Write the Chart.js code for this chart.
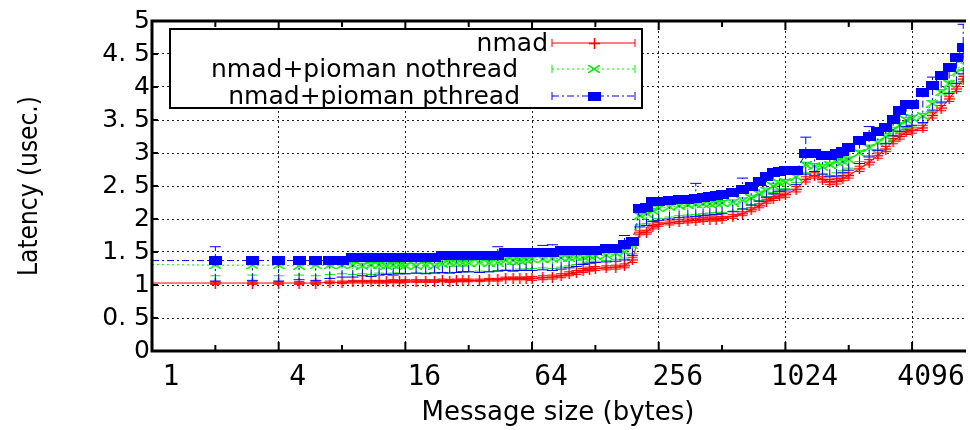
<!DOCTYPE html>
<html>
<head>
<meta charset="utf-8">
<script src="https://cdn.jsdelivr.net/npm/chart.js@4.4.1/dist/chart.umd.min.js"></script>
<style>
    html, body { margin: 0; padding: 0; background: #fff; }
    #wrap { width: 970px; height: 430px; }
</style>
</head>
<body>
<div id="wrap"><canvas id="myChart" width="970" height="430"></canvas></div>
<script>
// message sizes (bytes)
const sizes = [1, 2, 3, 4, 5, 6, 7, 8, 9, 10, 11, 12, 13, 14, 15,
    16, 18, 20, 22, 24, 26, 28, 30,
    32, 36, 40, 44, 48, 52, 56, 60,
    64, 72, 80, 88, 96, 104, 112, 120,
    128, 144, 160, 176, 192, 208, 224, 240,
    256, 288, 320, 352, 384, 416, 448, 480,
    512, 576, 640, 704, 768, 832, 896, 960,
    1024, 1152, 1280, 1408, 1536, 1664, 1792, 1920,
    2048, 2304, 2560, 2816, 3072, 3328, 3584, 3840,
    4096, 4608, 5120, 5632, 6144, 6656, 7168];

// latency (usec.)
const nmad = [1.03, 1.03, 1.03, 1.03, 1.03, 1.03, 1.04, 1.04, 1.05, 1.05, 1.05, 1.05, 1.05, 1.06, 1.05,
    1.06, 1.06, 1.06, 1.06, 1.07, 1.06, 1.07, 1.07,
    1.07, 1.07, 1.08, 1.08, 1.10, 1.10, 1.10, 1.10,
    1.10, 1.11, 1.12, 1.14, 1.17, 1.19, 1.22, 1.24,
    1.25, 1.26, 1.27, 1.29, 1.38, 1.79, 1.80, 1.88,
    1.92, 1.94, 1.96, 1.97, 1.98, 1.99, 2.00, 2.00,
    2.01, 2.04, 2.08, 2.14, 2.20, 2.27, 2.31, 2.35,
    2.37, 2.45, 2.60, 2.66, 2.60, 2.56, 2.57, 2.62,
    2.66, 2.76, 2.86, 2.96, 3.06, 3.18, 3.25, 3.32,
    3.34, 3.38, 3.57, 3.68, 3.82, 3.97, 4.12];
const nmadErr = [0.02, 0.02, 0.02, 0.02, 0.02, 0.02, 0.02, 0.02, 0.02, 0.02, 0.02, 0.02, 0.02, 0.02, 0.02,
    0.02, 0.02, 0.02, 0.02, 0.02, 0.02, 0.02, 0.02,
    0.02, 0.02, 0.02, 0.02, 0.02, 0.02, 0.02, 0.02,
    0.03, 0.03, 0.03, 0.03, 0.03, 0.03, 0.03, 0.03,
    0.03, 0.03, 0.03, 0.03, 0.04, 0.03, 0.03, 0.03,
    0.03, 0.03, 0.03, 0.03, 0.03, 0.03, 0.03, 0.03,
    0.03, 0.03, 0.03, 0.03, 0.03, 0.03, 0.03, 0.03,
    0.04, 0.04, 0.04, 0.04, 0.04, 0.04, 0.04, 0.04,
    0.04, 0.04, 0.04, 0.04, 0.04, 0.04, 0.04, 0.04,
    0.04, 0.04, 0.04, 0.04, 0.04, 0.04, 0.04];

const nothread = [1.31, 1.30, 1.30, 1.30, 1.29, 1.30, 1.30, 1.30, 1.30, 1.29, 1.30, 1.30, 1.29, 1.30, 1.30,
    1.29, 1.29, 1.30, 1.29, 1.32, 1.33, 1.33, 1.33,
    1.33, 1.34, 1.33, 1.34, 1.37, 1.37, 1.37, 1.38,
    1.39, 1.39, 1.40, 1.41, 1.41, 1.42, 1.42, 1.44,
    1.44, 1.45, 1.48, 1.50, 1.60, 2.05, 2.08, 2.12,
    2.16, 2.18, 2.20, 2.21, 2.22, 2.23, 2.23, 2.24,
    2.24, 2.25, 2.28, 2.32, 2.38, 2.43, 2.50, 2.54,
    2.56, 2.64, 2.82, 2.80, 2.79, 2.82, 2.87, 2.87,
    2.90, 3.00, 3.08, 3.16, 3.25, 3.35, 3.42, 3.50,
    3.53, 3.56, 3.75, 3.92, 4.05, 4.22, 4.42];
const nothreadLow = [1.15, 1.14, 1.15, 1.14, 1.15, 1.14, 1.16, 1.17, 1.16, 1.17, 1.16, 1.18, 1.17, 1.18, 1.18,
    1.17, 1.18, 1.18, 1.19, 1.18, 1.19, 1.19, 1.20,
    1.20, 1.21, 1.20, 1.22, 1.23, 1.22, 1.24, 1.24,
    1.25, 1.26, 1.25, 1.27, 1.29, 1.31, 1.33, 1.35,
    1.36, 1.37, 1.39, 1.41, 1.48, 1.91, 1.93, 1.98,
    2.01, 2.03, 2.05, 2.06, 2.07, 2.08, 2.09, 2.10,
    2.10, 2.12, 2.16, 2.22, 2.28, 2.34, 2.40, 2.44,
    2.46, 2.55, 2.70, 2.72, 2.68, 2.66, 2.70, 2.73,
    2.77, 2.87, 2.96, 3.05, 3.15, 3.26, 3.33, 3.38,
    3.41, 3.45, 3.63, 3.78, 3.92, 4.06, 4.25];
const nothreadHigh = [1.35, 1.34, 1.34, 1.34, 1.33, 1.34, 1.34, 1.34, 1.34, 1.33, 1.34, 1.34, 1.33, 1.34, 1.34,
    1.33, 1.33, 1.34, 1.33, 1.36, 1.37, 1.37, 1.37,
    1.37, 1.38, 1.37, 1.38, 1.41, 1.41, 1.41, 1.42,
    1.43, 1.43, 1.44, 1.45, 1.45, 1.46, 1.46, 1.48,
    1.48, 1.49, 1.52, 1.54, 1.64, 2.09, 2.12, 2.16,
    2.20, 2.22, 2.24, 2.25, 2.26, 2.27, 2.27, 2.28,
    2.28, 2.29, 2.32, 2.36, 2.42, 2.47, 2.54, 2.58,
    2.60, 2.68, 2.86, 2.84, 2.83, 2.86, 2.91, 2.91,
    2.94, 3.04, 3.12, 3.20, 3.29, 3.39, 3.46, 3.54,
    3.57, 3.60, 3.79, 3.96, 4.09, 4.26, 4.46];

const pthread = [1.37, 1.37, 1.37, 1.37, 1.37, 1.37, 1.37, 1.37, 1.41, 1.41, 1.41, 1.41, 1.41, 1.41, 1.41,
    1.41, 1.41, 1.41, 1.41, 1.44, 1.44, 1.44, 1.44,
    1.44, 1.44, 1.44, 1.44, 1.49, 1.49, 1.49, 1.49,
    1.49, 1.49, 1.49, 1.53, 1.53, 1.53, 1.53, 1.53,
    1.53, 1.56, 1.56, 1.61, 1.66, 2.16, 2.18, 2.26,
    2.27, 2.28, 2.30, 2.30, 2.31, 2.33, 2.34, 2.35,
    2.37, 2.40, 2.45, 2.50, 2.57, 2.65, 2.70, 2.72,
    2.73, 2.74, 2.99, 2.99, 2.96, 2.96, 3.00, 3.02,
    3.09, 3.19, 3.25, 3.32, 3.39, 3.51, 3.64, 3.74,
    3.74, 3.91, 4.03, 4.18, 4.30, 4.45, 4.60];
const pthreadLow = [1.08, 1.06, 1.07, 1.06, 1.08, 1.07, 1.10, 1.12, 1.12, 1.14, 1.13, 1.15, 1.16, 1.15, 1.17,
    1.17, 1.18, 1.17, 1.18, 1.19, 1.18, 1.19, 1.20,
    1.20, 1.19, 1.20, 1.21, 1.22, 1.21, 1.22, 1.22,
    1.22, 1.23, 1.22, 1.24, 1.26, 1.28, 1.31, 1.33,
    1.34, 1.35, 1.36, 1.38, 1.45, 1.88, 1.90, 1.96,
    1.98, 2.00, 2.02, 2.03, 2.04, 2.05, 2.06, 2.07,
    2.08, 2.11, 2.15, 2.21, 2.27, 2.33, 2.38, 2.42,
    2.44, 2.52, 2.68, 2.72, 2.68, 2.64, 2.65, 2.70,
    2.74, 2.84, 2.94, 3.04, 3.14, 3.26, 3.33, 3.40,
    3.42, 3.46, 3.65, 3.76, 3.90, 4.05, 4.20];
const pthreadHigh = [1.40, 1.58, 1.40, 1.40, 1.40, 1.40, 1.40, 1.40, 1.44, 1.44, 1.44, 1.44, 1.44, 1.44, 1.44,
    1.44, 1.44, 1.44, 1.44, 1.47, 1.47, 1.47, 1.47,
    1.47, 1.47, 1.47, 1.58, 1.52, 1.52, 1.52, 1.52,
    1.52, 1.60, 1.61, 1.56, 1.56, 1.56, 1.56, 1.56,
    1.56, 1.59, 1.59, 1.75, 1.69, 2.19, 2.21, 2.29,
    2.30, 2.31, 2.33, 2.33, 2.54, 2.36, 2.37, 2.38,
    2.40, 2.43, 2.62, 2.53, 2.60, 2.68, 2.73, 2.75,
    2.76, 2.77, 3.24, 3.02, 2.99, 2.99, 3.03, 3.05,
    3.12, 3.22, 3.40, 3.35, 3.42, 3.54, 3.67, 3.77,
    3.77, 3.94, 4.15, 4.21, 4.33, 4.48, 4.95];

const legendLabels = ['nmad', 'nmad+pioman nothread', 'nmad+pioman pthread'];

// axes
const xTickValues = [1, 2, 4, 8, 16, 32, 64, 128, 256, 512, 1024, 2048, 4096];
const xLabelValues = [1, 4, 16, 64, 256, 1024, 4096];
const xTickLabels = ['1', '4', '16', '64', '256', '1024', '4096'];
const yTickValues = [0, 0.5, 1, 1.5, 2, 2.5, 3, 3.5, 4, 4.5, 5];
const yTickLabels = ['0', '0. 5', '1', '1. 5', '2', '2. 5', '3', '3. 5', '4', '4. 5', '5'];

// point markers
function makeMarker(w, h, draw) {
    const c = document.createElement('canvas');
    c.width = w;
    c.height = h;
    draw(c.getContext('2d'), w, h);
    return c;
}
const plusMark = makeMarker(11, 11, function (g, w, h) {
    g.strokeStyle = '#ff0000';
    g.lineWidth = 1.5;
    g.beginPath();
    g.moveTo(0, h / 2); g.lineTo(w, h / 2);
    g.moveTo(w / 2, 0); g.lineTo(w / 2, h);
    g.stroke();
});
const crossMark = makeMarker(12, 8, function (g, w, h) {
    g.strokeStyle = '#00ee00';
    g.lineWidth = 1.5;
    g.beginPath();
    g.moveTo(0, 0); g.lineTo(w, h);
    g.moveTo(w, 0); g.lineTo(0, h);
    g.stroke();
});
const squareMark = makeMarker(13, 9, function (g, w, h) {
    g.fillStyle = '#0000ff';
    g.fillRect(0, 0, w, h);
});

function points(values) {
    return sizes.map(function (s, i) { return {x: s, y: values[i]}; });
}
function hideFirst(mark) {
    return function (ctx) { return ctx.dataIndex === 0 ? false : mark; };
}

// error bars, tick marks, frame, y labels and key in gnuplot style
const gnuplotFrame = {
    id: 'gnuplotFrame',
    beforeDatasetDraw(chart, args) {
        const ds = chart.data.datasets[args.index];
        const area = chart.chartArea;
        const yAxis = chart.scales.y;
        const ctx = chart.ctx;
        ctx.save();
        ctx.beginPath();
        ctx.rect(area.left, area.top, area.right - area.left, area.bottom - area.top);
        ctx.clip();
        ctx.strokeStyle = ds.borderColor;
        ctx.lineWidth = 1;
        args.meta.data.forEach(function (pt, i) {
            if (i === 0) return;
            const lo = yAxis.getPixelForValue(ds.errLow[i]);
            const hi = yAxis.getPixelForValue(ds.errHigh[i]);
            ctx.setLineDash(ds.borderDash || []);
            ctx.beginPath();
            ctx.moveTo(pt.x, lo);
            ctx.lineTo(pt.x, hi);
            ctx.stroke();
            ctx.setLineDash([]);
            ctx.beginPath();
            ctx.moveTo(pt.x - ds.capWidth / 2, lo);
            ctx.lineTo(pt.x + ds.capWidth / 2, lo);
            ctx.moveTo(pt.x - ds.capWidth / 2, hi);
            ctx.lineTo(pt.x + ds.capWidth / 2, hi);
            ctx.stroke();
        });
        ctx.restore();
    },
    afterDatasetsDraw(chart) {
        const ctx = chart.ctx;
        const a = chart.chartArea;
        const xAxis = chart.scales.x;
        const yAxis = chart.scales.y;
        ctx.save();
        ctx.strokeStyle = '#000';
        ctx.lineWidth = 2;
        xTickValues.forEach(function (v) {
            const px = xAxis.getPixelForValue(v);
            const len = xLabelValues.includes(v) ? 9 : 6;
            ctx.beginPath();
            ctx.moveTo(px, a.bottom);
            ctx.lineTo(px, a.bottom - len);
            ctx.moveTo(px, a.top);
            ctx.lineTo(px, a.top + len);
            ctx.stroke();
        });
        yTickValues.forEach(function (v) {
            const py = yAxis.getPixelForValue(v);
            ctx.beginPath();
            ctx.moveTo(a.left, py);
            ctx.lineTo(a.left + 6, py);
            ctx.stroke();
        });
        ctx.lineWidth = 3;
        ctx.beginPath();
        ctx.moveTo(a.right + 2, a.top);
        ctx.lineTo(a.left, a.top);
        ctx.lineTo(a.left, a.bottom);
        ctx.lineTo(a.right + 2, a.bottom);
        ctx.stroke();
        ctx.restore();
    },
    afterDraw(chart) {
        const ctx = chart.ctx;
        const a = chart.chartArea;
        const yAxis = chart.scales.y;
        ctx.save();
        // y tick labels
        ctx.font = '25px "DejaVu Sans"';
        ctx.fillStyle = '#000';
        ctx.textAlign = 'right';
        ctx.textBaseline = 'middle';
        yTickValues.forEach(function (v, i) {
            ctx.fillText(yTickLabels[i], a.left - 2, yAxis.getPixelForValue(v));
        });
        // key
        const rows = [43, 69, 96];
        const textRight = [548, 518, 520];
        ctx.fillStyle = '#fff';
        ctx.fillRect(171, 30, 470, 77);
        ctx.strokeStyle = '#000';
        ctx.lineWidth = 2;
        ctx.strokeRect(170, 29, 472, 79);
        ctx.fillStyle = '#000';
        chart.data.datasets.forEach(function (ds, i) {
            const y = rows[i];
            ctx.fillText(legendLabels[i], textRight[i], y + 1);
            ctx.strokeStyle = ds.borderColor;
            ctx.lineWidth = 1;
            ctx.setLineDash(ds.borderDash || []);
            ctx.beginPath();
            ctx.moveTo(552, y);
            ctx.lineTo(635, y);
            ctx.stroke();
            ctx.setLineDash([]);
            ctx.beginPath();
            ctx.moveTo(552, y - 4);
            ctx.lineTo(552, y + 4);
            ctx.moveTo(635, y - 4);
            ctx.lineTo(635, y + 4);
            ctx.stroke();
            const m = ds.marker;
            ctx.drawImage(m, Math.round(594 - m.width / 2), Math.round(y - m.height / 2));
        });
        ctx.restore();
    }
};

const ctx = document.getElementById('myChart');
new Chart(ctx, {
    type: 'line',
    data: {
        datasets: [{
            label: legendLabels[0],
            data: points(nmad),
            borderColor: '#ff0000',
            borderWidth: 1,
            pointStyle: hideFirst(plusMark),
            marker: plusMark,
            errLow: nmad.map(function (v, i) { return v - nmadErr[i]; }),
            errHigh: nmad.map(function (v, i) { return v + nmadErr[i]; }),
            capWidth: 10,
            order: 3
        }, {
            label: legendLabels[1],
            data: points(nothread),
            borderColor: '#00ee00',
            borderWidth: 1,
            borderDash: [2, 3],
            pointStyle: hideFirst(crossMark),
            marker: crossMark,
            errLow: nothreadLow,
            errHigh: nothreadHigh,
            capWidth: 10,
            order: 2
        }, {
            label: legendLabels[2],
            data: points(pthread),
            borderColor: '#0000ff',
            borderWidth: 1,
            borderDash: [7, 3, 2, 3],
            pointStyle: hideFirst(squareMark),
            marker: squareMark,
            errLow: pthreadLow,
            errHigh: pthreadHigh,
            capWidth: 11,
            order: 1
        }]
    },
    options: {
        responsive: false,
        devicePixelRatio: 1,
        animation: false,
        events: [],
        layout: {
            padding: {left: 0, right: 0, top: 21, bottom: 0}
        },
        elements: {
            line: {tension: 0, fill: false},
            point: {radius: 5}
        },
        plugins: {
            legend: {display: false},
            tooltip: {enabled: false}
        },
        scales: {
            x: {
                type: 'logarithmic',
                min: 1,
                max: 7230,
                bounds: 'data',
                afterBuildTicks: function (axis) {
                    axis.ticks = xTickValues.map(function (v) { return {value: v}; });
                },
                afterFit: function (axis) {
                    axis.height = 79;
                },
                ticks: {
                    autoSkip: false,
                    maxRotation: 0,
                    labelOffset: 19,
                    padding: 10,
                    color: '#000',
                    font: {family: '"DejaVu Sans Mono"', size: 28},
                    callback: function (value) {
                        const k = xLabelValues.indexOf(value);
                        return k >= 0 ? xTickLabels[k] : '';
                    }
                },
                grid: {
                    drawTicks: false,
                    lineWidth: 1,
                    color: function (c) {
                        return c.tick && c.tick.value > 1 && xLabelValues.includes(c.tick.value) ? '#222' : 'rgba(0,0,0,0)';
                    }
                },
                border: {display: false, dash: [2, 3]},
                title: {
                    display: true,
                    text: 'Message size (bytes)',
                    color: '#000',
                    font: {family: '"DejaVu Sans"', size: 26},
                    padding: {top: 0, bottom: 1}
                }
            },
            y: {
                min: 0,
                max: 5,
                afterBuildTicks: function (axis) {
                    axis.ticks = yTickValues.map(function (v) { return {value: v}; });
                },
                afterFit: function (axis) {
                    axis.width = 152;
                },
                ticks: {
                    display: false
                },
                grid: {
                    drawTicks: false,
                    lineWidth: 1,
                    color: function (c) {
                        return c.tick && c.tick.value > 0 && c.tick.value < 5 ? '#222' : 'rgba(0,0,0,0)';
                    }
                },
                border: {display: false, dash: [2, 3]},
                title: {
                    display: true,
                    text: 'Latency (usec.)',
                    color: '#000',
                    font: {family: '"Liberation Sans Narrow", "DejaVu Sans Condensed", "DejaVu Sans"', size: 26},
                    padding: {top: 15, bottom: 0}
                }
            }
        }
    },
    plugins: [gnuplotFrame]
});
</script>
</body>
</html>
